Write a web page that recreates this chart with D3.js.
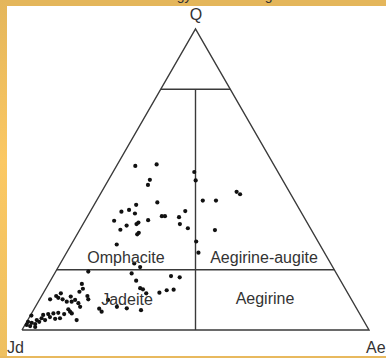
<!DOCTYPE html>
<html><head><meta charset="utf-8">
<script src="https://cdn.jsdelivr.net/npm/d3@7"></script>
<style>html,body{margin:0;padding:0;background:#fff;}svg{display:block;}</style>
</head><body>
<script>
// Ternary data (percent): Q, Jd, Ae
const qVals = [54.5,55.0,49.9,48.2,52.5,49.7,45.9,45.1,41.6,42.4,43.0,43.0,39.3,39.9,38.7,36.3,35.7,35.2,36.5,37.8,37.8,39.5,37.5,34.7,33.3,35.2,33.8,32.3,31.8,29.4,25.7,33.2,28.4,22.1,20.9,18.8,19.4,15.3,13.7,12.7,12.2,11.3,10.2,10.7,10.2,9.4,11.1,9.4,10.0,7.7,11.3,10.2,16.4,13.9,13.5,12.2,17.9,17.5,12.4,13.2,13.4,7.2,6.6,7.7,6.1,7.1,6.9,6.1,5.5,3.3,4.8,1.7,2.4,3.3,3.9,5.0,5.3,5.5,5.7,3.9,1.3,2.0,2.7,3.3,4.3,3.7,5.3,2.7,10.0,8.9,1.0];
const aeVals = [5.4,11.3,11.9,12.2,23.4,25.2,38.9,40.3,12.1,17.8,30.6,34.4,9.0,10.9,13.2,8.4,15.7,15.4,18.1,21.4,22.3,27.3,26.5,12.8,11.7,27.9,30.9,17.5,17.3,35.5,38.0,39.0,13.1,21.3,23.6,22.2,9.4,9.6,10.7,10.2,5.1,4.2,3.0,5.1,6.6,8.2,8.5,9.6,10.3,12.9,13.2,14.0,24.7,27.1,28.1,29.7,34.0,36.7,33.4,35.1,37.0,26.6,31.0,23.5,19.9,18.7,9.9,10.8,11.6,14.1,0.3,0.5,1.6,2.6,3.7,3.6,4.9,6.3,7.6,9.0,1.7,2.8,3.6,5.0,5.9,7.7,9.5,0.4,19.8,11.8,3.3];
const jdVals = qVals.map((q,i)=>+(100-q-aeVals[i]).toFixed(1));

const vertexLabels = ["Q","Jd","Ae"];
const fieldNames = ["Omphacite","Aegirine-augite","Jadeite","Aegirine"];
const boundaryQ = [80,20];
const titleText = "Mineralogy and the diagram";

const W=386,H=358;
const svg=d3.select("body").append("svg").attr("width",W).attr("height",H);

// frame decoration
const defs=svg.append("defs");
const g1=defs.append("linearGradient").attr("id","lg").attr("x1",0).attr("y1",0).attr("x2",0).attr("y2",1);
g1.append("stop").attr("offset","0").attr("stop-color","#e4b65b");
g1.append("stop").attr("offset","0.45").attr("stop-color","#fbc863");
g1.append("stop").attr("offset","1").attr("stop-color","#eec060");
svg.append("rect").attr("x",0).attr("y",0).attr("width",W).attr("height",H).attr("fill","#fff");
svg.append("rect").attr("x",0).attr("y",0).attr("width",W).attr("height",6).attr("fill","#e4b65b");
svg.append("rect").attr("x",0).attr("y",0).attr("width",7).attr("height",H).attr("fill","url(#lg)");
svg.append("rect").attr("x",0).attr("y",356).attr("width",W).attr("height",2).attr("fill","#e8b95e");
svg.append("text").attr("x",123).attr("y",0).attr("font-family","Liberation Sans, Arial, sans-serif")
  .attr("font-size",14).attr("fill","#333").text(titleText);

// scales: u = Ae + Q/2 (horizontal), v = Q (vertical)
const x=d3.scaleLinear().domain([0,100]).range([22,369]);
const y=d3.scaleLinear().domain([0,100]).range([330,29]);
const px=(q,ae)=>x(ae+q/2), py=q=>y(q);

const lineColor="#3a3a3a";
const g=svg.append("g");
const tri=[[0,0],[0,100],[100,0],[0,0]]; // [Q,Ae]
g.append("path").attr("d",d3.line().x(d=>px(d[0],d[1])).y(d=>py(d[0]))(tri))
 .attr("fill","none").attr("stroke",lineColor).attr("stroke-width",1.4).attr("stroke-linejoin","miter");
boundaryQ.forEach(q=>{
  g.append("line").attr("x1",px(q,0)).attr("x2",px(q,100-q)).attr("y1",py(q)).attr("y2",py(q))
   .attr("stroke",lineColor).attr("stroke-width",1.4);
});
// Jd=Ae divide below Q=80
g.append("line").attr("x1",px(80,10)).attr("x2",px(0,50)).attr("y1",py(80)).attr("y2",py(0))
 .attr("stroke",lineColor).attr("stroke-width",1.4);

// field labels
const font="Liberation Sans, Arial, sans-serif";
const lab=(t,xx,yy,anchor)=>g.append("text").attr("x",xx).attr("y",yy).attr("text-anchor",anchor||"middle")
  .attr("font-family",font).attr("font-size",16).attr("fill","#333").text(t);

// points
g.selectAll("circle.pt").data(qVals.map((q,i)=>({q,ae:aeVals[i],jd:jdVals[i]}))).enter()
 .append("circle").attr("class","pt").attr("cx",d=>px(d.q,d.ae)).attr("cy",d=>py(d.q)).attr("r",2.1).attr("fill","#111");

lab(fieldNames[0],126,263);
lab(fieldNames[1],264,263);
lab(fieldNames[2],127,305);
lab(fieldNames[3],265,304);
lab(vertexLabels[0],196,20);
lab(vertexLabels[1],7,353,"start");
lab(vertexLabels[2],366,353,"start");
</script>
</body></html>
